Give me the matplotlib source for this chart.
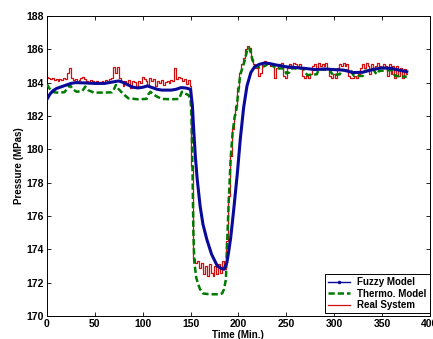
import matplotlib
matplotlib.use("Agg")
import matplotlib.pyplot as plt
from matplotlib.lines import Line2D

plt.rcParams['font.family'] = ['Liberation Sans', 'DejaVu Sans']
plt.rcParams['font.weight'] = 'bold'

# ---------------- data ----------------
fuzzy_t = [0, 3, 6, 10, 15, 20, 25, 30, 40, 50, 60, 70, 75, 80, 85, 90, 95, 100, 105, 110,
           115, 120, 125, 130, 135, 140, 145, 150, 152, 153, 155, 157, 160, 163, 167, 172,
           178, 182, 185, 188, 190, 192, 195, 199, 202, 205.5, 209, 213, 217, 222, 227, 232,
           240, 250, 260, 270, 280, 290, 300, 310, 320, 330, 340, 350, 360, 370, 376]
fuzzy_p = [183.0, 183.3, 183.5, 183.65, 183.75, 183.85, 183.95, 184.0, 183.98, 183.95, 183.95,
           184.05, 184.1, 184.0, 183.85, 183.72, 183.68, 183.72, 183.8, 183.7, 183.6, 183.55,
           183.55, 183.55, 183.6, 183.7, 183.68, 183.6, 182.6, 181.5, 179.6, 178.2, 176.6,
           175.5, 174.6, 173.7, 173.0, 172.85, 172.8, 173.2, 173.9, 174.7, 176.3, 178.6, 180.6,
           182.5, 183.8, 184.6, 184.95, 185.1, 185.17, 185.15, 185.05, 184.95, 184.9, 184.85,
           184.78, 184.82, 184.78, 184.75, 184.6, 184.62, 184.78, 184.88, 184.85, 184.72, 184.65]

thermo_t = [0, 2, 5, 10, 18, 21, 24, 27, 31, 37, 40, 43, 49, 60, 68, 70, 72, 75, 80, 85, 95,
            104, 106, 108, 111, 115, 120, 130, 138, 140, 141, 144, 148, 150, 151, 152, 153,
            154, 156, 158, 160, 163, 170, 180, 183, 185, 187, 188, 190, 192, 194, 196, 198,
            200, 202, 205, 207, 209, 211, 213, 215, 218, 222, 228, 232, 236, 240, 248, 250,
            253, 255, 268, 270, 272, 282, 284, 296, 297, 299, 306, 308, 318, 319, 321, 330,
            332, 342, 343, 345, 347, 360, 362, 364, 376]
thermo_p = [183.9, 183.7, 183.45, 183.4, 183.42, 183.6, 183.85, 183.6, 183.45, 183.5, 183.76,
            183.55, 183.4, 183.4, 183.42, 183.6, 183.86, 183.6, 183.3, 183.06, 183.0, 183.02,
            183.3, 183.45, 183.3, 183.16, 183.02, 183.0, 183.02, 183.3, 183.45, 183.35, 183.25,
            183.0, 182.0, 179.0, 175.0, 173.2, 172.3, 171.9, 171.6, 171.35, 171.3, 171.3,
            171.35, 171.6, 172.2, 174.0, 177.0, 179.5, 181.0, 181.9, 182.4, 183.5, 184.5,
            185.0, 185.4, 185.9, 186.1, 185.8, 185.3, 185.0, 184.9, 185.0, 185.2, 185.0,
            184.85, 184.85, 184.55, 184.6, 184.85, 184.85, 184.6, 184.45, 184.5, 184.8,
            184.75, 184.6, 184.45, 184.5, 184.75, 184.7, 184.55, 184.4, 184.4, 184.7, 184.75,
            184.6, 184.5, 184.7, 184.75, 184.55, 184.4, 184.35]

real_t = list(range(0, 378, 2))
real_p = [
    # 0 - 150
    184.35, 184.3, 184.2, 184.25, 184.15, 184.2, 184.1, 184.2, 184.15, 184.3,
    184.2, 184.6, 184.9, 184.3, 184.15, 184.2, 184.05, 184.15, 184.3, 184.35,
    184.2, 184.1, 184.0, 184.15, 184.1, 184.0, 184.1, 183.95, 184.05, 184.1,
    184.0, 184.15, 184.05, 184.2, 184.3, 184.95, 184.6, 184.95, 184.3, 184.1,
    183.8, 184.1, 184.0, 184.15, 183.7, 184.1, 184.05, 183.75, 184.1, 184.0,
    184.35, 184.2, 184.1, 183.85, 184.25, 184.1, 184.2, 183.8, 184.1, 184.0,
    184.15, 183.85, 184.05, 184.1, 184.0, 184.15, 184.1, 184.9, 184.2, 184.35,
    184.25, 184.1, 184.2, 183.9, 184.15, 183.8,
    # 152 - 214
    179.0, 173.4, 173.2, 173.3, 172.9, 173.2, 172.5, 173.0, 172.4, 173.1,
    172.6, 172.4, 173.0, 172.5, 173.1, 172.6, 173.3, 172.8, 174.5, 177.2,
    179.6, 181.2, 182.0, 182.6, 183.7, 184.6, 185.1, 185.5, 186.0, 186.2,
    186.1, 185.4,
    # 216 - 376
    185.1, 184.9, 185.1, 184.4, 184.6, 185.2, 185.3, 185.1, 185.2, 185.0,
    185.1, 184.3, 184.9, 185.1, 185.0, 185.2, 184.4, 184.3, 184.9, 185.1,
    185.0, 185.2, 185.1, 185.0, 185.1, 184.9, 184.4, 184.3, 184.4, 184.3,
    184.5, 185.0, 185.1, 184.9, 185.2, 185.0, 185.1, 185.0, 185.2, 184.9,
    184.4, 184.3, 184.5, 184.3, 184.9, 185.1, 185.0, 185.2, 185.0, 185.1,
    184.4, 184.3, 184.3, 184.4, 184.3, 184.5, 184.9, 185.1, 184.9, 185.2,
    185.0, 184.5, 185.1, 184.9, 185.0, 185.2, 185.0, 184.9, 185.1, 185.0,
    184.4, 185.1, 184.5, 185.0, 184.3, 185.0, 184.4, 184.9, 184.3, 184.8,
    184.5]

x_ticks = [0, 50, 100, 150, 200, 250, 300, 350, 400]
y_ticks = [170, 172, 174, 176, 178, 180, 182, 184, 186, 188]

# ---------------- plot ----------------
fig = plt.figure(figsize=(4.33, 3.39), dpi=100)
ax = fig.add_axes([0.1085, 0.068, 0.884, 0.885])

l_real, = ax.plot(real_t, real_p, color='#d01010', lw=0.9, drawstyle='steps-mid',
                  label='Real System', zorder=2)
l_thermo, = ax.plot(thermo_t, thermo_p, color='#007a00', lw=1.8, ls=(0, (2.5, 1.2)),
                    label='Thermo. Model', zorder=3)
l_fuzzy, = ax.plot(fuzzy_t, fuzzy_p, color='#0a0a9a', lw=2.2, label='Fuzzy Model', zorder=4)

ax.set_xlim(0, 400)
ax.set_ylim(170, 188)
ax.set_xticks(x_ticks)
ax.set_yticks(y_ticks)
ax.tick_params(direction='in', top=True, right=True, length=3, width=0.6,
               labelsize=7.5, pad=2)
for lab in ax.get_xticklabels() + ax.get_yticklabels():
    lab.set_fontweight('bold')
for s in ax.spines.values():
    s.set_linewidth(0.7)

ax.set_xlabel('Time (Min.)', fontsize=7, fontweight='bold', labelpad=1)
ax.set_ylabel('Pressure (MPas)', fontsize=7, fontweight='bold', labelpad=2)

h_fuzzy = Line2D([0, 0.5, 1], [0, 0, 0], color='#0a0a9a', lw=1.0, marker='.',
                 markersize=3, markevery=[1])
h_thermo = Line2D([], [], color='#007a00', lw=1.8, ls=(0, (2.5, 1.2)))
h_real = Line2D([], [], color='#d01010', lw=0.9)
leg = ax.legend([h_fuzzy, h_thermo, h_real], ['Fuzzy Model', 'Thermo. Model', 'Real System'],
                loc='lower right', bbox_to_anchor=(1.0, 0.01), borderaxespad=0,
                fancybox=False, edgecolor='black', framealpha=1,
                prop={'weight': 'bold', 'size': 7},
                handlelength=2.2, handletextpad=0.8, labelspacing=0.15,
                borderpad=0.3)
leg.get_frame().set_linewidth(0.7)

fig.savefig('out.png', dpi=100)
